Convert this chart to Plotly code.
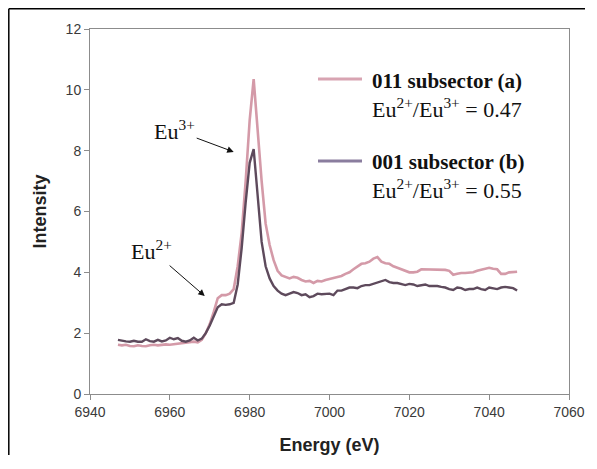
import plotly.graph_objects as go

energy = list(range(6947, 7048))

intensity_011 = [
    1.62, 1.60, 1.62, 1.58, 1.57, 1.60, 1.58, 1.57, 1.60, 1.62,
    1.60, 1.62, 1.63, 1.62, 1.64, 1.66, 1.68, 1.70, 1.72, 1.72,
    1.70, 1.78, 2.00, 2.30, 2.70, 3.15, 3.25, 3.25, 3.30, 3.45,
    4.20, 5.30, 7.00, 9.00, 10.35, 8.60, 7.00, 5.60, 4.90, 4.40,
    4.05, 3.90, 3.85, 3.80, 3.85, 3.82, 3.75, 3.70, 3.72, 3.65,
    3.72, 3.70, 3.75, 3.78, 3.80, 3.85, 3.88, 3.95, 4.00, 4.10,
    4.20, 4.28, 4.30, 4.35, 4.45, 4.50, 4.35, 4.30, 4.28, 4.20,
    4.15, 4.10, 4.05, 4.00, 4.00, 4.02, 4.10, 4.10, 4.08, 4.08,
    4.10, 4.08, 4.08, 4.05, 3.92, 3.95, 3.98, 3.98, 4.00, 4.00,
    4.05, 4.08, 4.10, 4.15, 4.12, 4.10, 3.95, 3.95, 4.00, 4.00,
    4.02,
]

intensity_001 = [
    1.78, 1.75, 1.73, 1.72, 1.75, 1.72, 1.72, 1.80, 1.74, 1.72,
    1.78, 1.73, 1.76, 1.85, 1.80, 1.84, 1.75, 1.72, 1.76, 1.85,
    1.76, 1.82, 2.00, 2.25, 2.55, 2.85, 2.95, 2.93, 2.95, 3.00,
    3.60, 4.80, 6.30, 7.60, 8.05, 6.40, 5.00, 4.20, 3.80, 3.55,
    3.40, 3.30, 3.25, 3.30, 3.35, 3.32, 3.25, 3.28, 3.18, 3.22,
    3.30, 3.28, 3.30, 3.30, 3.25, 3.40, 3.40, 3.45, 3.50, 3.50,
    3.48, 3.55, 3.58, 3.58, 3.62, 3.65, 3.70, 3.75, 3.68, 3.65,
    3.65, 3.62, 3.58, 3.62, 3.60, 3.55, 3.58, 3.60, 3.55, 3.55,
    3.55, 3.52, 3.50, 3.45, 3.42, 3.50, 3.48, 3.42, 3.45, 3.45,
    3.50, 3.45, 3.42, 3.50, 3.48, 3.45, 3.50, 3.52, 3.50, 3.48,
    3.40,
]

x_ticks = [6940, 6960, 6980, 7000, 7020, 7040, 7060]
y_ticks = [0, 2, 4, 6, 8, 10, 12]

legend_lines = [
    ("011 subsector (a)", "Eu<sup>2+</sup>/Eu<sup>3+</sup> = 0.47"),
    ("001 subsector (b)", "Eu<sup>2+</sup>/Eu<sup>3+</sup> = 0.55"),
]

PINK = "#d49aa8"
DARK = "#5e4a5c"
LEG_COLORS = ["#d8a4b2", "#8a7d9e"]

# the page body keeps its default 8px margin, so the figure is offset by 8px
OFF = 8
W, H = 597 - 2 * OFF - 4, 469 - 2 * OFF - 6
L, T = 90 - OFF, 29 - OFF
R = OFF + W - 569
B = OFF + H - 394
pw, ph = W - L - R, H - T - B


def px(xpage):
    return (xpage - OFF - L) / pw


def py(ypage):
    return (H - B - (ypage - OFF)) / ph


fig = go.Figure()
fig.add_trace(go.Scatter(x=energy, y=intensity_011, mode="lines",
                         line=dict(color=PINK, width=2.6), showlegend=False))
fig.add_trace(go.Scatter(x=energy, y=intensity_001, mode="lines",
                         line=dict(color=DARK, width=2.4), showlegend=False))

axis_common = dict(showgrid=False, zeroline=False, showline=True, linecolor="#8c8c8c",
                   linewidth=1, mirror=True, ticks="outside", ticklen=5, tickcolor="#8c8c8c",
                   automargin=False,
                   tickfont=dict(family="Liberation Sans", size=14, color="#3a3a3a"))

fig.update_xaxes(range=[6940, 7060], tickvals=x_ticks, ticktext=[str(v) for v in x_ticks],
                 title=dict(text="<b>Energy (eV)</b>", font=dict(family="Liberation Sans", size=18, color="#222222"), standoff=19),
                 **axis_common)
fig.update_yaxes(range=[0, 12], tickvals=y_ticks, ticktext=[str(v) for v in y_ticks],
                 title=dict(text="<b>Intensity</b>", font=dict(family="Liberation Sans", size=18, color="#222222"), standoff=14),
                 **axis_common)

shapes = [
    dict(type="line", xref="paper", yref="paper", x0=px(8.8), x1=px(8.8), y0=py(480), y1=py(8.8),
         line=dict(color="black", width=1.5)),
    dict(type="line", xref="paper", yref="paper", x0=px(8.8), x1=px(620), y0=py(8.8), y1=py(8.8),
         line=dict(color="black", width=1.5)),
]
annotations = []
leg_y = [(79, 81, 108), (161, 162, 189)]
serif = "Liberation Serif"
for i, (l1, l2) in enumerate(legend_lines):
    ly, t1, t2 = leg_y[i]
    shapes.append(dict(type="line", xref="paper", yref="paper", x0=px(318), x1=px(362),
                       y0=py(ly), y1=py(ly), line=dict(color=LEG_COLORS[i], width=3)))
    annotations.append(dict(xref="paper", yref="paper", x=px(370), y=py(t1), text="<b>" + l1 + "</b>",
                            showarrow=False, xanchor="left", yanchor="middle",
                            font=dict(family=serif, size=21, color="#111111")))
    annotations.append(dict(xref="paper", yref="paper", x=px(370), y=py(t2), text=l2,
                            showarrow=False, xanchor="left", yanchor="middle",
                            font=dict(family=serif, size=22, color="#111111")))

annotations.append(dict(x=6976, y=7.96, xref="x", yref="y", text="Eu<sup>3+</sup>",
                        showarrow=True, ax=-59, ay=-22, arrowhead=2, arrowsize=1.3, arrowwidth=1,
                        arrowcolor="#111111", font=dict(family=serif, size=22, color="#111111")))
annotations.append(dict(x=6968.75, y=3.22, xref="x", yref="y", text="Eu<sup>2+</sup>",
                        showarrow=True, ax=-53, ay=-46, arrowhead=2, arrowsize=1.3, arrowwidth=1,
                        arrowcolor="#111111", font=dict(family=serif, size=22, color="#111111")))

fig.update_layout(width=W, height=H, autosize=False, margin=dict(l=L, r=R, t=T, b=B),
                  paper_bgcolor="white", plot_bgcolor="white",
                  shapes=shapes, annotations=annotations)

fig.write_html("out.html")
